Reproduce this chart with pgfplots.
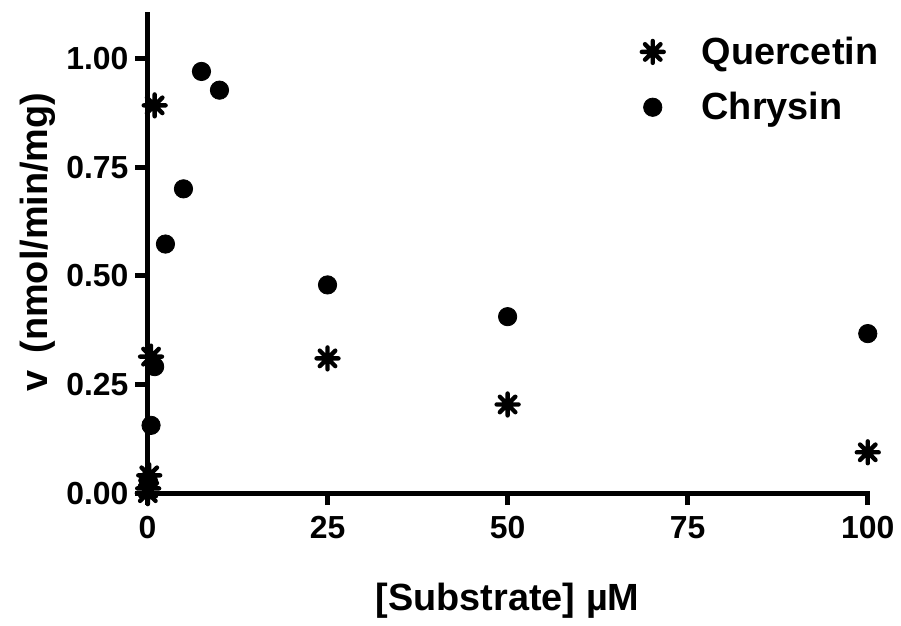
\documentclass[border=0pt]{standalone}
\usepackage{fontspec}
\setmainfont{Liberation Sans}
\usepackage{pgfplots}
\pgfplotsset{compat=1.18}
\pgfdeclareplotmark{ast8}{%
  \pgfpathmoveto{\pgfqpointpolar{0}{\pgfplotmarksize}}\pgfpathlineto{\pgfqpointpolar{180}{\pgfplotmarksize}}%
  \pgfpathmoveto{\pgfqpointpolar{45}{\pgfplotmarksize}}\pgfpathlineto{\pgfqpointpolar{225}{\pgfplotmarksize}}%
  \pgfpathmoveto{\pgfqpointpolar{90}{\pgfplotmarksize}}\pgfpathlineto{\pgfqpointpolar{270}{\pgfplotmarksize}}%
  \pgfpathmoveto{\pgfqpointpolar{135}{\pgfplotmarksize}}\pgfpathlineto{\pgfqpointpolar{315}{\pgfplotmarksize}}%
  \pgfusepathqstroke}
\begin{document}
\begin{tikzpicture}
\begin{axis}[
  name=ax,
  scale only axis, width=361.5pt, height=240pt,
  xmin=0, xmax=100, ymin=0, ymax=1.1,
  clip=false,
  axis x line*=bottom, axis y line*=left,
  axis line style={line width=2.6pt, black, line cap=rect},
  every tick/.style={line width=2.6pt, black},
  major tick length=6pt, tick align=outside,
  xtick={0,25,50,75,100}, ytick={0,0.25,0.5,0.75,1},
  yticklabel style={/pgf/number format/.cd, fixed, fixed zerofill, precision=2},
  xticklabel style={yshift=-2pt},
  /pgf/number format/assume math mode=true,
  tick label style={font=\fontsize{16}{16}\selectfont\bfseries},
  label style={font=\fontsize{19}{19}\selectfont\bfseries},
  xlabel={[Substrate] \textmu M},
  ylabel={v\hspace{0.45em}(nmol/min/mg)},
  xlabel style={at={(axis description cs:0.5,-0.225)}, anchor=center},
  ylabel style={at={(axis description cs:-0.152,0.525)}, anchor=center},
  legend style={at={(axis description cs:1.029,0.972)}, anchor=north east, draw=none, fill=none,
    font=\fontsize{19}{19}\selectfont\bfseries, row sep=8.5pt},
  legend cell align=left,
]
\addplot[only marks, mark=ast8, mark size=5.5pt, line width=2.2pt, black, mark options={line cap=round}]
  coordinates {(0.05,0.0) (0.1,0.011) (0.25,0.041) (0.5,0.314) (1,0.892) (25,0.31) (50,0.204) (100,0.094)};
\addlegendentry{\hspace{17pt}Quercetin}
\addplot[only marks, mark=*, mark size=4.6pt, black]
  coordinates {(0.1,0.03) (0.5,0.156) (1,0.291) (2.5,0.573) (5,0.70) (7.5,0.97) (10,0.927) (25,0.479) (50,0.406) (100,0.367)};
\addlegendentry{\hspace{17pt}Chrysin}
\end{axis}
\path[use as bounding box] ([shift={(-74pt,-61pt)}]ax.south west) rectangle ([shift={(15pt,7.5pt)}]ax.north east);
\end{tikzpicture}
\end{document}
